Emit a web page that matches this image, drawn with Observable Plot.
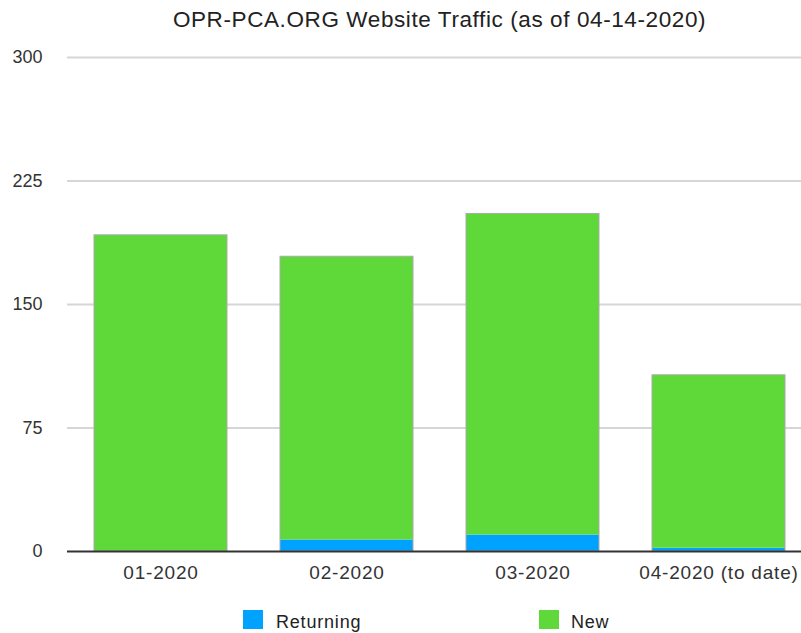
<!DOCTYPE html>
<html>
<head>
<meta charset="utf-8">
<script src="https://cdn.jsdelivr.net/npm/d3@7"></script>
<script src="https://cdn.jsdelivr.net/npm/@observablehq/plot@0.6"></script>
<style>
  html, body { margin: 0; padding: 0; background: #fff; }
  #wrap { width: 801px; height: 633px; overflow: hidden; position: relative; font-family: "Liberation Sans", Arial, sans-serif; color: #222; }
  #title { position: relative; height: 40px; }
  #title span { position: absolute; left: 67.5px; width: 744px; top: 7px; text-align: center; font-size: 22.5px; letter-spacing: 0.6px; white-space: nowrap; }
  #chart svg { display: block; }
  #chart g[aria-label="x-axis tick label"] { letter-spacing: 0.8px; }
  #legend { position: relative; height: 33px; }
  .sw { position: absolute; top: 10px; width: 20px; height: 19px; }
  .lt { position: absolute; top: 12px; font-size: 18px; letter-spacing: 0.8px; line-height: normal; white-space: nowrap; color: #222; }
</style>
</head>
<body>
<div id="wrap">
  <div id="title"><span>OPR-PCA.ORG Website Traffic (as of 04-14-2020)</span></div>
  <div id="chart"></div>
  <div id="legend"></div>
</div>
<script>
const months = ["01-2020", "02-2020", "03-2020", "04-2020 (to date)"];
const returning = [0, 7, 10, 2];
const newVisitors = [192, 172, 195, 105];
const seriesNames = ["Returning", "New"];
const seriesColors = ["#00A2FF", "#5FD93A"];
const yTicks = [0, 75, 150, 225, 300];

const table = [];
months.forEach((m, i) => table.push({month: m, series: "Returning", value: returning[i]}));
months.forEach((m, i) => table.push({month: m, series: "New", value: newVisitors[i]}));
const totals = months.map((m, i) => ({month: m, total: returning[i] + newVisitors[i]}));

const chart = Plot.plot({
  width: 801,
  height: 560,
  marginTop: 17,
  marginBottom: 49,
  marginLeft: 67,
  marginRight: 0,
  style: {fontFamily: "Liberation Sans, Arial, sans-serif", color: "#333", background: "#fff"},
  x: {domain: months, range: [67.5, 811.5], paddingInner: 0.285, paddingOuter: 0.1425, label: null},
  y: {domain: [0, 300], label: null},
  color: {domain: seriesNames, range: seriesColors},
  marks: [
    Plot.ruleY(yTicks.filter(d => d > 0), {stroke: "#d6d6d6", strokeWidth: 2}),
    Plot.barY(table, Plot.stackY({x: "month", y: "value", fill: "series", order: seriesNames})),
    Plot.barY(totals, {x: "month", y: "total", fill: "none", stroke: "#aaaaaa", strokeWidth: 1}),
    Plot.ruleY([0], {stroke: "#333", strokeWidth: 2}),
    Plot.axisY(yTicks, {tickSize: 0, tickPadding: 25, fontSize: 18, label: null, fill: "#333"}),
    Plot.axisX({tickSize: 0, tickPadding: 14, fontSize: 19, label: null, fill: "#333"})
  ]
});
document.getElementById("chart").appendChild(chart);

const legend = document.getElementById("legend");
const legendPos = [[243, 276], [539, 571]];
seriesNames.forEach((name, i) => {
  const sw = document.createElement("div");
  sw.className = "sw";
  sw.style.left = legendPos[i][0] + "px";
  sw.style.background = seriesColors[i];
  legend.appendChild(sw);
  const t = document.createElement("div");
  t.className = "lt";
  t.style.left = legendPos[i][1] + "px";
  t.textContent = name;
  legend.appendChild(t);
});
</script>
</body>
</html>
